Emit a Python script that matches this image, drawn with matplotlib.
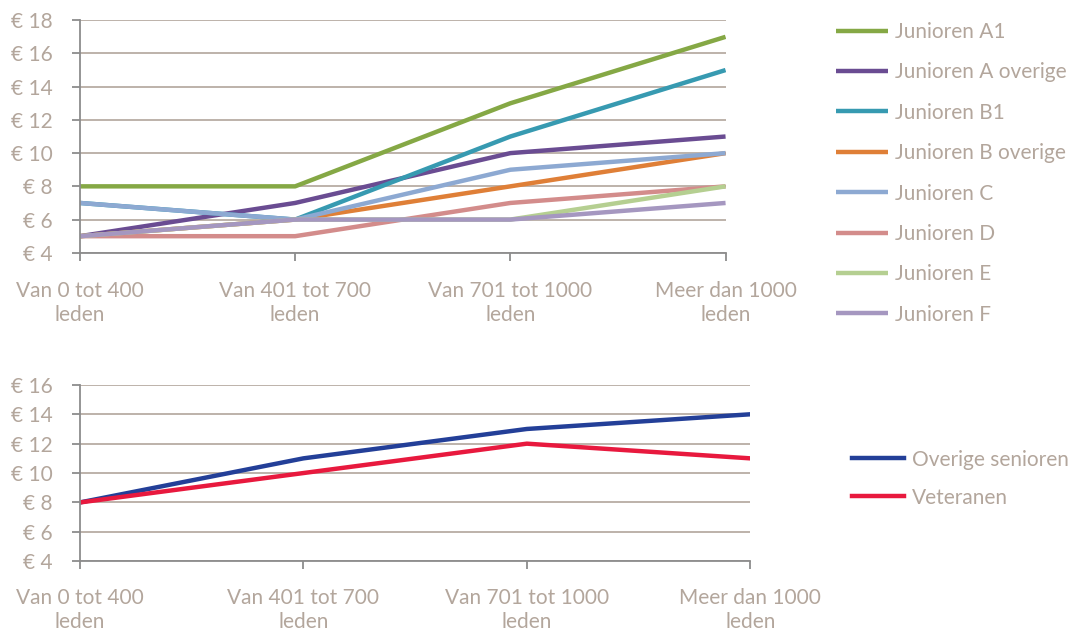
import matplotlib.pyplot as plt

plt.rcParams['font.family'] = ['Lato', 'DejaVu Sans']

# categorieën (x-as)
categorieen = ['Van 0 tot 400\nleden', 'Van 401 tot 700\nleden',
               'Van 701 tot 1000\nleden', 'Meer dan 1000\nleden']

# bovenste grafiek: junioren
junioren_a1 = [8, 8, 13, 17]
junioren_a_overige = [5, 7, 10, 11]
junioren_b1 = [7, 6, 11, 15]
junioren_b_overige = [5, 6, 8, 10]
junioren_c = [7, 6, 9, 10]
junioren_d = [5, 5, 7, 8]
junioren_e = [5, 6, 6, 8]
junioren_f = [5, 6, 6, 7]

# onderste grafiek: senioren
overige_senioren = [8, 11, 13, 14]
veteranen = [8, 10, 12, 11]

tekstkleur = '#B3A69C'
rasterkleur = '#B8ADA4'
fs = 15

fig = plt.figure(figsize=(10.76, 6.32), dpi=100)
ax1 = fig.add_axes([0.0743, 0.600, 0.600, 0.368])
ax2 = fig.add_axes([0.0743, 0.112, 0.623, 0.279])

x = range(len(categorieen))

reeksen_boven = [
    ('Junioren A1', junioren_a1, '#85A845'),
    ('Junioren A overige', junioren_a_overige, '#6A4C92'),
    ('Junioren B1', junioren_b1, '#379AB1'),
    ('Junioren B overige', junioren_b_overige, '#DF7F37'),
    ('Junioren C', junioren_c, '#8DA9D2'),
    ('Junioren D', junioren_d, '#D38C8B'),
    ('Junioren E', junioren_e, '#B5CF91'),
    ('Junioren F', junioren_f, '#A597C0'),
]
for naam, waarden, kleur in reeksen_boven:
    ax1.plot(x, waarden, color=kleur, lw=3.2, label=naam, solid_capstyle='butt')

ax2.plot(x, overige_senioren, color='#233F98', lw=3.2, label='Overige senioren')
ax2.plot(x, veteranen, color='#E8193E', lw=3.2, label='Veteranen')


def opmaak(ax, ymax):
    ax.set_xlim(0, 3)
    ax.set_ylim(4, ymax)
    ax.set_yticks(range(4, ymax + 1, 2))
    ax.set_yticklabels(['€ %d' % v for v in range(4, ymax + 1, 2)])
    ax.set_xticks(list(x))
    ax.set_xticklabels(categorieen, linespacing=1.25)
    ax.grid(axis='y', color=rasterkleur, lw=1.3)
    ax.set_axisbelow(True)
    for s in ['top', 'right']:
        ax.spines[s].set_visible(False)
    for s in ['left', 'bottom']:
        ax.spines[s].set_color('#8C8C8C')
        ax.spines[s].set_linewidth(1.3)
    ax.tick_params(axis='both', colors='#8C8C8C', labelcolor=tekstkleur,
                   labelsize=fs, length=5.5, width=1.3)
    ax.tick_params(axis='y', pad=14)


opmaak(ax1, 18)
opmaak(ax2, 16)
ax1.tick_params(axis='x', pad=15)
ax2.tick_params(axis='x', pad=14)

ax1.legend(loc='upper left', bbox_to_anchor=(1.171, 0.993), frameon=False,
           borderpad=0, borderaxespad=0,
           fontsize=fs, handlelength=2.5, handletextpad=0.35,
           labelspacing=0.98, labelcolor=tekstkleur)
ax2.legend(loc='upper left', bbox_to_anchor=(1.152, 0.633), frameon=False,
           borderpad=0, borderaxespad=0,
           fontsize=fs, handlelength=2.5, handletextpad=0.35,
           labelspacing=0.86, labelcolor=tekstkleur)

fig.savefig('out.png', dpi=100)
